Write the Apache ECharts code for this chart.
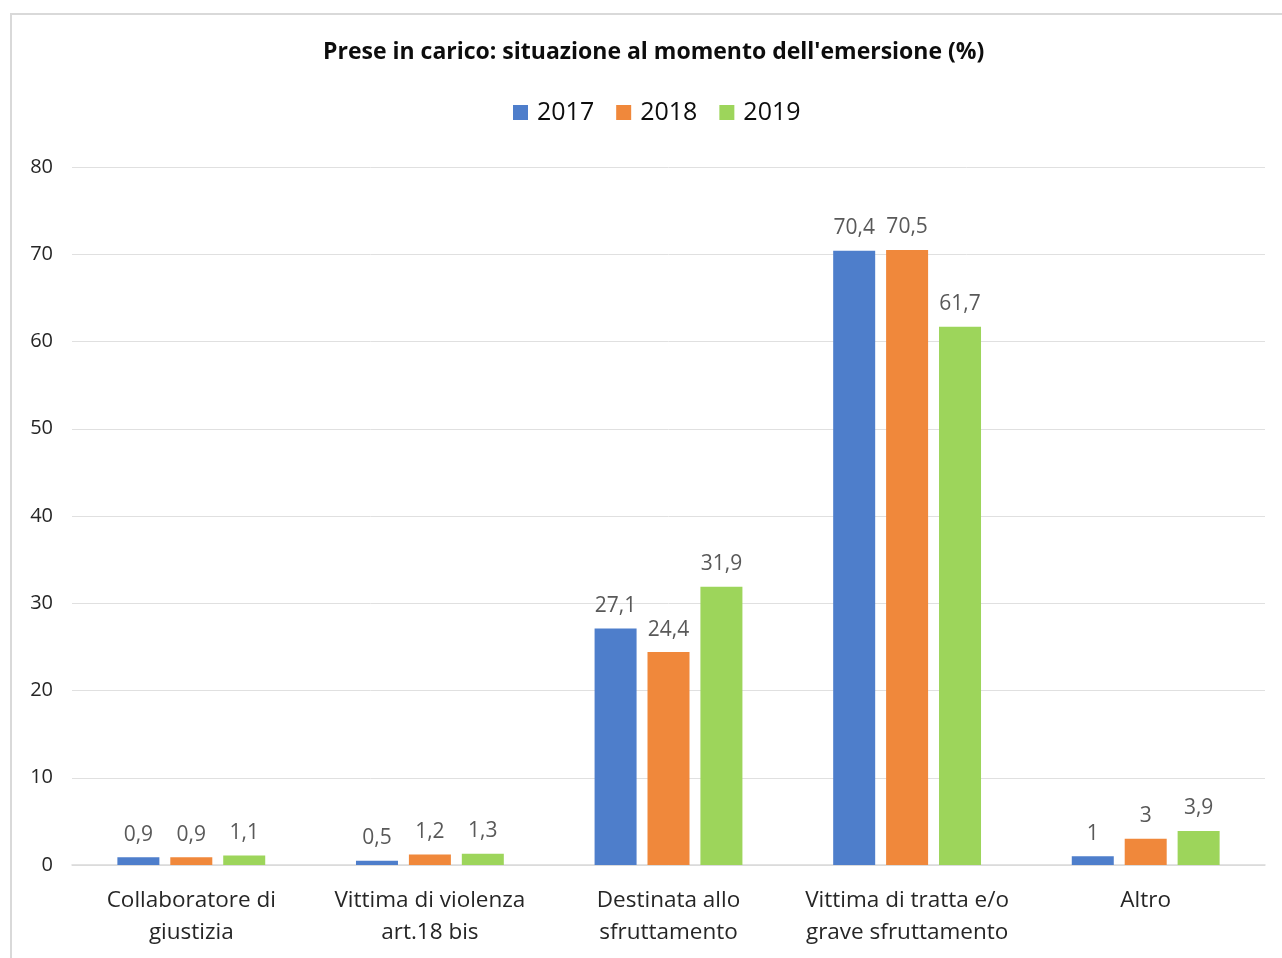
<!DOCTYPE html>
<html>
<head>
<meta charset="utf-8">
<script src="https://cdn.jsdelivr.net/npm/echarts@6/dist/echarts.min.js"></script>
<style>
html,body{margin:0;padding:0;background:#fff;}
#frame{position:absolute;left:10px;top:13px;width:1290px;height:960px;border:2px solid #d9d9d9;box-sizing:border-box;}
#chart{position:absolute;left:0;top:0;width:1282px;height:958px;}
</style>
</head>
<body>
<div id="frame"></div>
<div id="chart"></div>
<script>
const categories = ['Collaboratore di\ngiustizia', 'Vittima di violenza\nart.18 bis', 'Destinata allo\nsfruttamento', 'Vittima di tratta e/o\ngrave sfruttamento', 'Altro'];
const seriesNames = ['2017', '2018', '2019'];
const values2017 = [0.9, 0.5, 27.1, 70.4, 1];
const values2018 = [0.9, 1.2, 24.4, 70.5, 3];
const values2019 = [1.1, 1.3, 31.9, 61.7, 3.9];
const yTicks = [0, 10, 20, 30, 40, 50, 60, 70, 80];
const colors = ['#4e7ecb', '#f0883b', '#9dd55b'];

const FONT = '"Open Sans", Lato, sans-serif';
const chart = echarts.init(document.getElementById('chart'), null, {renderer: 'canvas'});
const allValues = [values2017, values2018, values2019];
chart.setOption({
  backgroundColor: 'transparent',
  animation: false,
  color: colors,
  title: {
    text: 'Prese in carico: situazione al momento dell\'emersione (%)',
    left: 318, top: 36,
    textStyle: {fontFamily: FONT, fontSize: 23, fontWeight: 'bold', color: '#0d0d0d'}
  },
  legend: {
    data: seriesNames, top: 95, left: 508,
    itemWidth: 15, itemHeight: 15, itemGap: 22,
    icon: 'rect',
    textStyle: {fontFamily: FONT, fontSize: 25, color: '#0d0d0d', padding: [0,0,0,4]}
  },
  grid: {left: 72, right: 17, top: 167, bottom: 93, containLabel: false},
  xAxis: {
    type: 'category', data: categories,
    axisLine: {lineStyle: {color: '#d9d9d9', width: 1.5}},
    axisTick: {show: false},
    axisLabel: {fontFamily: FONT, fontSize: 22.5, color: '#262626', lineHeight: 32, margin: 20, interval: 0}
  },
  yAxis: {
    type: 'value', min: yTicks[0], max: yTicks[yTicks.length-1], interval: 10,
    axisLine: {show: false}, axisTick: {show: false},
    splitLine: {lineStyle: {color: '#e0e0e0', width: 1}},
    axisLabel: {fontFamily: FONT, fontSize: 20, color: '#262626', margin: 19}
  },
  series: seriesNames.map((name, i) => ({
    name, type: 'bar', data: allValues[i],
    barWidth: 42, barGap: '26%', barCategoryGap: '20%',
    label: {
      show: true, position: 'top', distance: 12,
      fontFamily: FONT, fontSize: 21, color: '#595959',
      formatter: p => String(p.value).replace('.', ',')
    }
  }))
});
</script>
</body>
</html>
